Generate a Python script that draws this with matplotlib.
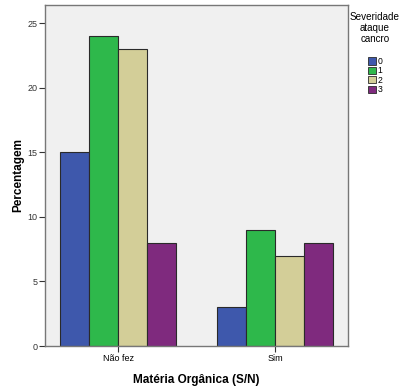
import matplotlib
matplotlib.use("Agg")
import matplotlib.pyplot as plt
import numpy as np
from matplotlib.patches import Patch

categories = ["Não fez", "Sim"]
severity_levels = ["0", "1", "2", "3"]
# percentage per severity level, one list per level (Não fez, Sim)
sev0 = [15, 3]
sev1 = [24, 9]
sev2 = [23, 7]
sev3 = [8, 8]
series = [sev0, sev1, sev2, sev3]
colors = ["#3e58ac", "#2eb84b", "#d3ce98", "#7f2a7e"]
yticks = [0, 5, 10, 15, 20, 25]

plt.rcParams["font.family"] = ["Liberation Sans", "DejaVu Sans"]

fig = plt.figure(figsize=(4.0, 3.89), dpi=100)
ax = fig.add_axes([45 / 400, 1 - 346 / 389, 303 / 400, 341 / 389])
ax.set_facecolor("#f0f0f0")

x = np.arange(len(categories))
width = 0.185
for i, (vals, c) in enumerate(zip(series, colors)):
    ax.bar(x + (i - 1.5) * width, vals, width, color=c,
           edgecolor="#2a2a2a", linewidth=0.8, zorder=2)

ax.set_xlim(-0.465, 1.465)
ax.set_ylim(0, 26.4)
ax.set_xticks(x)
ax.set_xticklabels(categories, fontsize=6.5)
ax.set_yticks(yticks)
ax.set_yticklabels([str(t) for t in yticks], fontsize=6.5, color="#333333")
ax.tick_params(axis="both", length=4, width=0.8, color="#333333", pad=1.5)

for s in ax.spines.values():
    s.set_color("#777777")
    s.set_linewidth(1.0)

ax.set_ylabel("Percentagem", fontsize=8.5, fontweight="bold", labelpad=2)
ax.set_xlabel("Matéria Orgânica (S/N)", fontsize=8.5, fontweight="bold", labelpad=8)

# legend title drawn separately so it can sit centred above the swatches
fig.text(375 / 400, 1 - 12 / 389, "Severidade\nataque\ncancro", ha="center",
         va="top", fontsize=7.1, linespacing=1.1, multialignment="center")

handles = [Patch(facecolor=c, edgecolor="#2a2a2a", linewidth=0.6) for c in colors]
fig.legend(handles, severity_levels,
           loc="upper left", bbox_to_anchor=(368 / 400, 1 - 57 / 389),
           frameon=False, fontsize=6.2,
           handlelength=0.9, handleheight=0.9, handletextpad=0.2,
           labelspacing=0.05, borderaxespad=0, borderpad=0)

fig.savefig("out.png", dpi=100, facecolor="white")
